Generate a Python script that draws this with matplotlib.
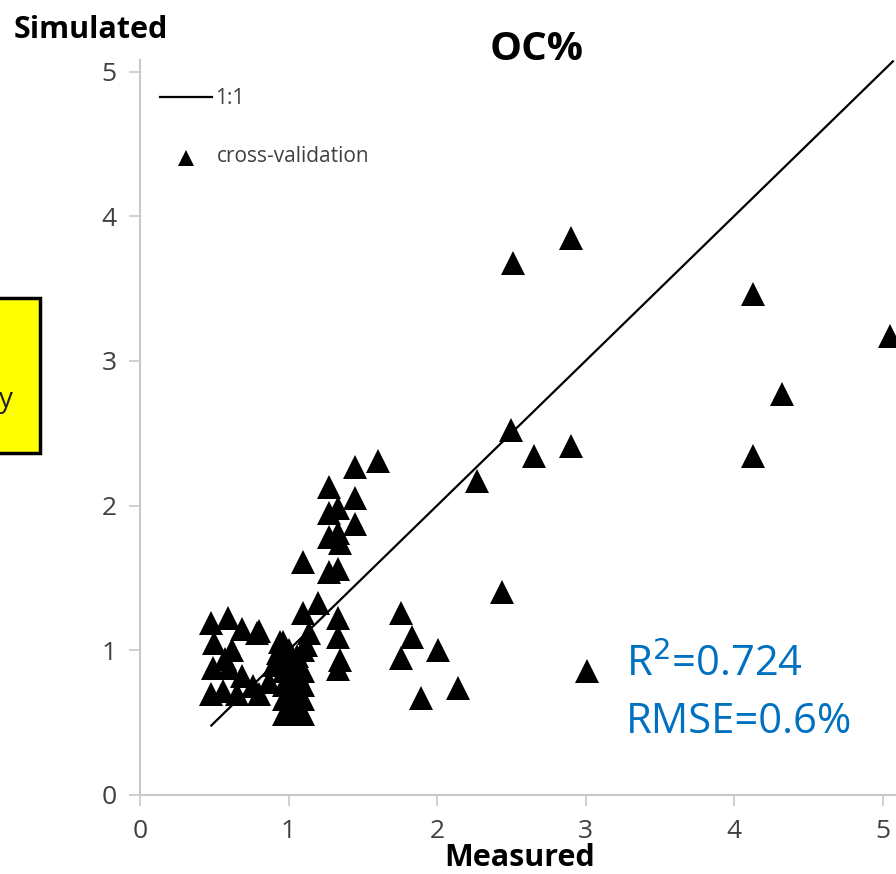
import matplotlib.pyplot as plt
from matplotlib.lines import Line2D
from matplotlib.patches import Rectangle

plt.rcParams['font.family'] = ['Open Sans', 'DejaVu Sans']

# measured vs simulated organic carbon (%), cross-validation
measured = [
    2.51, 2.90, 4.13, 5.05, 4.32, 4.13, 2.90, 2.50, 2.65, 2.27,
    2.44, 3.01, 2.01, 1.89, 2.14, 1.76, 1.83, 1.76,
    1.60, 1.45, 1.27, 1.45, 1.27, 1.33, 1.45, 1.27, 1.33, 1.35,
    1.10, 1.27, 1.33, 1.20, 1.10, 1.33, 1.33, 1.35, 1.33,
    0.80, 0.96, 1.14, 1.12,
    0.48, 0.59, 0.69, 0.79, 0.94, 0.50, 0.57, 0.62, 0.49, 0.60,
    0.69, 0.76, 0.48, 0.56, 0.65, 0.80, 0.87, 0.90, 0.93,
    0.97, 0.97, 0.97, 0.97, 0.97, 1.00, 1.00, 1.00, 1.00, 1.00,
    1.03, 1.03, 1.03, 1.03, 1.06, 1.06, 1.06, 1.06, 1.10, 1.10,
    1.10, 1.10, 1.10,
]
simulated = [
    3.68, 3.85, 3.46, 3.17, 2.77, 2.34, 2.41, 2.52, 2.34, 2.17,
    1.40, 0.86, 1.00, 0.67, 0.74, 1.26, 1.09, 0.95,
    2.31, 2.27, 2.13, 2.05, 1.95, 1.98, 1.87, 1.78, 1.81, 1.74,
    1.61, 1.54, 1.56, 1.33, 1.26, 1.22, 1.09, 0.93, 0.87,
    1.13, 1.06, 1.12, 1.04,
    1.19, 1.22, 1.15, 1.12, 1.06, 1.05, 0.94, 1.00, 0.88, 0.88,
    0.82, 0.75, 0.70, 0.72, 0.70, 0.70, 0.78, 0.90, 0.98,
    0.56, 0.66, 0.76, 0.86, 0.96, 0.60, 0.70, 0.80, 0.90, 1.00,
    0.56, 0.66, 0.76, 0.86, 0.60, 0.72, 0.84, 0.96, 0.56, 0.66,
    0.76, 0.86, 1.00,
]
one_to_one = [0.48, 5.07]
x_ticks = [0, 1, 2, 3, 4, 5]
y_ticks = [0, 1, 2, 3, 4, 5]
r2 = 0.724
rmse = 0.6

W, H = 896, 874
fig = plt.figure(figsize=(W / 100, H / 100), dpi=100)


def fx(px):
    return px / W


def fy(py):
    return 1 - py / H


ax = fig.add_axes([fx(140), fy(795), fx(W - 140), (795 - 60) / H])
ax.plot(one_to_one, one_to_one, color='black', lw=1.6, zorder=2)
ax.plot(measured, simulated, '^', color='black', ms=17, mew=0, zorder=3)

ax.set_xlim(0, (W - 140) / 148.5)
ax.set_ylim(0, (795 - 60) / 144.7)
ax.set_xticks(x_ticks)
ax.set_yticks(y_ticks)
for side in ('top', 'right'):
    ax.spines[side].set_visible(False)
for side in ('left', 'bottom'):
    ax.spines[side].set_color('#c8c8c8')
    ax.spines[side].set_linewidth(1.5)
ax.tick_params(colors='#c8c8c8', width=1.2, length=8, labelcolor='#404040',
               labelsize=19, pad=9)

fig.text(fx(537), fy(50), 'OC%', ha='center', va='center',
         fontsize=29, fontweight='bold')
fig.text(fx(14), fy(30), 'Simulated', ha='left', va='center',
         fontsize=22, fontweight='bold')
fig.text(fx(520), fy(858), 'Measured', ha='center', va='center',
         fontsize=22, fontweight='bold')

# legend
fig.add_artist(Line2D([fx(160), fx(212)], [fy(97), fy(97)], color='black', lw=1.6))
fig.text(fx(215), fy(98), '1:1', ha='left', va='center', fontsize=15, color='#404040')
fig.add_artist(Line2D([fx(186)], [fy(158)], marker='^', color='black', ms=12, mew=0))
fig.text(fx(217), fy(157), 'cross-validation', ha='left', va='center',
         fontsize=15, color='#404040')

# statistics
fig.text(fx(626), fy(665), 'R$^2$=%.3f' % r2, ha='left', va='center',
         fontsize=30, color='#0070c0')
fig.text(fx(626), fy(722), 'RMSE=%.1f%%' % rmse, ha='left', va='center',
         fontsize=30, color='#0070c0')

# yellow note box at the left edge
fig.add_artist(Rectangle((fx(-40), fy(453)), fx(80), (453 - 298) / H,
                         facecolor='#ffff00', edgecolor='black', lw=2.5,
                         transform=fig.transFigure))
fig.text(fx(13), fy(400), 'y', ha='right', va='center', fontsize=20, color='#202020')

fig.savefig('out.png', dpi=100)
